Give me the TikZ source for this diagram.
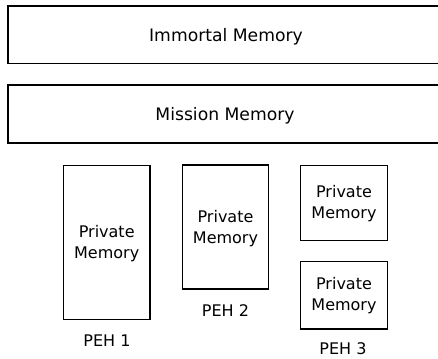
\documentclass[tikz,border=0pt]{standalone}
\usepackage{fontspec}
\setmainfont{DejaVu Sans}
\begin{document}
\begin{tikzpicture}[x=1pt,y=-1pt,
  box/.style={draw=black,line width=1.2pt,fill=white},
  big/.style={font=\fontsize{17.2}{20}\selectfont,inner sep=0pt},
  small/.style={font=\fontsize{16}{21.5}\selectfont,inner sep=0pt,align=center},
]
\useasboundingbox[fill=white] (0,0) rectangle (438,358);
\begin{scope}
\clip (0,0) rectangle (438,358);
\draw[box] (8,6) rectangle (445,63.5);
\draw[box] (8,85) rectangle (445,143);
\end{scope}
\node[big] (imm) at (226,36.5) {Immortal Memory};
\node[big] (mis) at (225,116) {Mission Memory};
\node[box,minimum width=86.5pt,minimum height=154pt,inner sep=0pt] (p1) at (106.7,242.2) {};
\node[small] (t1) at ([yshift=-1.5pt]p1.center) {Private\\Memory};
\node[box,minimum width=86.5pt,minimum height=124pt,inner sep=0pt] (p2) at (225.5,227) {};
\node[small] (t2) at ([yshift=-1.5pt]p2.center) {Private\\Memory};
\node[box,minimum width=86.5pt,minimum height=75.5pt,inner sep=0pt] (p3a) at (344,203) {};
\node[small] (t3a) at ([yshift=-0.5pt]p3a.center) {Private\\Memory};
\node[box,minimum width=86.5pt,minimum height=67.5pt,inner sep=0pt] (p3b) at (344,295.3) {};
\node[small] (t3b) at ([yshift=-0.5pt]p3b.center) {Private\\Memory};
\node[small] (l1) at (107,341) {PEH 1};
\node[small] (l2) at (225.5,311) {PEH 2};
\node[small] (l3) at (343,349) {PEH 3};
\end{tikzpicture}
\end{document}
